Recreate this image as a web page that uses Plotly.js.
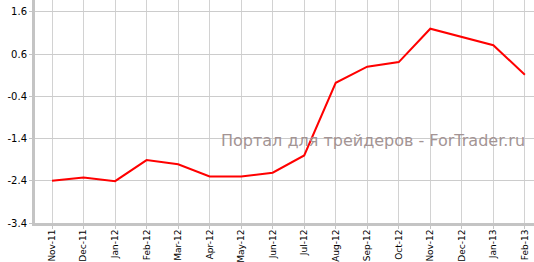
<!DOCTYPE html>
<html>
<head>
<meta charset="utf-8">
<script src="https://cdn.plot.ly/plotly-3.0.1.min.js"></script>
<style>html,body{margin:0;padding:0;background:#fff;}#chart{width:534px;height:262px;}</style>
</head>
<body>
<div id="chart"></div>
<script>
const categories = ["Nov-11","Dec-11","Jan-12","Feb-12","Mar-12","Apr-12","May-12","Jun-12","Jul-12","Aug-12","Sep-12","Oct-12","Nov-12","Dec-12","Jan-13","Feb-13"];
const values = [-2.40, -2.32, -2.41, -1.91, -2.01, -2.30, -2.30, -2.21, -1.80, -0.08, 0.30, 0.41, 1.20, 1.01, 0.81, 0.11];
const yTicks = [-3.4, -2.4, -1.4, -0.4, 0.6, 1.6];
const watermark = "Портал для трейдеров - ForTrader.ru";

const trace = {
  x: categories, y: values, type: "scatter", mode: "lines",
  line: {color: "#ff0000", width: 2}, hoverinfo: "skip"
};
const layout = {
  width: 534, height: 262,
  margin: {l: 35, r: 0, t: 0, b: 39},
  paper_bgcolor: "#ffffff", plot_bgcolor: "#ffffff",
  showlegend: false,
  font: {family: "DejaVu Sans, Verdana, sans-serif", size: 10, color: "#000"},
  xaxis: {
    type: "category", range: [-0.54, 15.29],
    tickangle: -90, showgrid: true, gridcolor: "#d2d2d2", gridwidth: 1,
    showline: true, linecolor: "#c4c4c4", linewidth: 3,
    ticks: "outside", ticklen: 3, tickcolor: "#c4c4c4", tickwidth: 1,
    ticklabelstandoff: -3,
    tickfont: {size: 9}, zeroline: false, fixedrange: true
  },
  yaxis: {
    range: [-3.4, 1.88], tickvals: yTicks, ticktext: yTicks.map(v => v.toFixed(1)),
    showgrid: true, gridcolor: "#cccccc", gridwidth: 1,
    showline: true, linecolor: "#c4c4c4", linewidth: 3,
    ticks: "outside", ticklen: 3, tickcolor: "#c4c4c4", tickwidth: 1,
    tickfont: {size: 10}, zeroline: false, fixedrange: true
  },
  annotations: [{
    text: watermark, xref: "paper", yref: "paper",
    x: 0.986, y: 0.372, xanchor: "right", yanchor: "middle",
    showarrow: false, font: {size: 16, color: "#a39494", family: "DejaVu Sans, Verdana, sans-serif"}
  }]
};
Plotly.newPlot("chart", [trace], layout, {displayModeBar: false, staticPlot: true});
</script>
</body>
</html>
